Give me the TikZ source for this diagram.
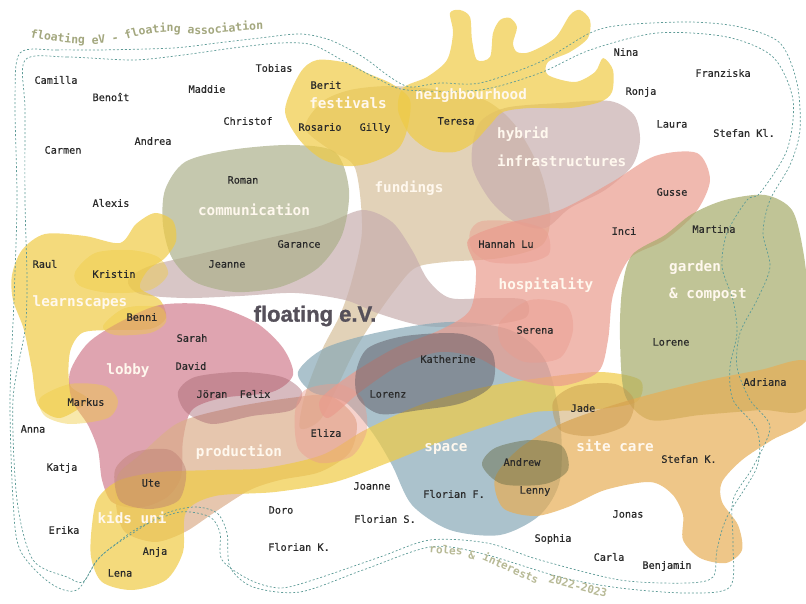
\documentclass[tikz,border=0pt]{standalone}
\usepackage{fontspec}
\setmonofont{DejaVu Sans Mono}
\setsansfont{Liberation Sans}
\newfontface\evfont[FakeBold=1.2]{Liberation Sans Bold}
\newfontface\namefont[FakeBold=0.5]{DejaVu Sans Mono}
\usetikzlibrary{decorations.text}

\definecolor{yellowcol}{HTML}{EFCB45}
\definecolor{commcol}{HTML}{ACB08B}
\definecolor{fundcol}{HTML}{D6BF9A}
\definecolor{hybridcol}{HTML}{C7AEAE}
\definecolor{hospcol}{HTML}{EA9B8D}
\definecolor{gardencol}{HTML}{A5AB69}
\definecolor{carecol}{HTML}{E7AE55}
\definecolor{spacecol}{HTML}{87A8B6}
\definecolor{lobbycol}{HTML}{D17E8E}
\definecolor{prodcol}{HTML}{DBAE8B}
\definecolor{dotcol}{HTML}{5E9B97}
\definecolor{headcol}{HTML}{A3A77E}
\definecolor{footcol}{HTML}{B7B995}
\definecolor{labelcol}{HTML}{FFF8EE}
\definecolor{namecol}{HTML}{2A2A2A}
\definecolor{evcol}{HTML}{55505A}

\tikzset{
  blob/.style={fill=#1, fill opacity=0.7, draw=none},
  member/.style={fill=#1, fill opacity=0.45, draw=none},
  person/.style={font=\namefont\fontsize{10.2}{12}\selectfont, text=namecol, inner sep=1pt},
  role/.style={font=\ttfamily\bfseries\fontsize{14.3}{16}\selectfont, text=labelcol, inner sep=1pt},
  footer/.style={font=\ttfamily\bfseries\fontsize{11}{12}\selectfont, text=footcol, inner sep=0pt},
  border/.style={draw=dotcol, line width=0.7pt, dash pattern=on 2pt off 2pt},
}

\begin{document}
\begin{tikzpicture}[x=1pt,y=-1pt]
\useasboundingbox (0,0) rectangle (806,604);

% the roles
\fill[blob=fundcol] plot[smooth cycle] coordinates {(305,128) (322,102) (350,90) (390,86) (440,90) (485,100) (515,125) (540,170) (550,215) (542,245) (500,258) (445,262) (415,268) (395,290) (375,318) (355,350) (338,385) (320,420) (300,428) (305,395) (322,350) (340,315) (352,280) (362,230) (355,168) (330,150)};
\fill[blob=hybridcol] plot[smooth cycle] coordinates {(478,125) (505,108) (560,103) (610,101) (634,115) (640,140) (632,166) (605,190) (570,208) (545,228) (515,222) (490,200) (472,165)};
\fill[blob=hybridcol] plot[smooth cycle] coordinates {(128,280) (150,266) (200,254) (260,240) (320,226) (362,210) (392,222) (412,250) (428,280) (450,298) (490,298) (525,300) (525,318) (480,326) (425,326) (380,314) (345,300) (295,293) (240,296) (185,298) (140,294)};
\fill[blob=commcol] plot[smooth cycle] coordinates {(165,190) (185,162) (230,150) (290,145) (335,152) (349,190) (342,235) (318,268) (280,287) (235,292) (195,282) (172,258) (163,225)};
\fill[blob=yellowcol] plot[smooth cycle] coordinates {(285,110) (300,73) (317,60) (347,63) (367,73) (392,84) (410,100) (407,130) (397,150) (370,163) (345,166) (320,158) (298,138)};
\fill[blob=yellowcol] plot[smooth cycle] coordinates {(403,88) (427,77) (447,60) (453,33) (450,13) (460,10) (470,17) (472,40) (477,60) (490,57) (493,33) (500,20) (510,18) (517,27) (513,43) (517,52) (530,52) (555,38) (570,15) (580,10) (590,20) (588,38) (570,52) (548,62) (548,75) (575,82) (595,72) (603,58) (613,70) (612,92) (600,102) (570,108) (530,108) (503,112) (490,125) (473,143) (455,152) (430,150) (410,135) (398,110)};
\fill[blob=yellowcol] plot[smooth cycle] coordinates {(12,275) (22,250) (45,234) (85,236) (120,243) (136,224) (155,213) (173,221) (176,241) (165,258) (148,270) (140,288) (160,300) (166,318) (150,329) (110,330) (82,333) (70,352) (70,385) (88,400) (60,418) (38,405) (32,370) (24,330) (13,300)};
\fill[blob=lobbycol] plot[smooth cycle] coordinates {(70,372) (88,343) (120,322) (160,305) (210,305) (255,322) (283,348) (293,375) (272,392) (222,398) (192,410) (183,440) (181,477) (166,498) (138,508) (112,502) (102,480) (98,450) (88,425) (72,400)};
\fill[blob=spacecol] plot[smooth cycle] coordinates {(298,372) (325,348) (380,332) (450,322) (510,330) (545,360) (560,420) (560,480) (540,515) (500,535) (450,530) (412,505) (392,465) (372,432) (345,402) (312,392)};
\fill[blob=prodcol] plot[smooth cycle] coordinates {(118,475) (140,455) (178,423) (230,408) (290,398) (330,396) (356,420) (350,452) (320,472) (280,480) (250,490) (215,512) (185,532) (155,542) (125,532) (116,505)};
\fill[blob=yellowcol] plot[smooth cycle] coordinates {(92,525) (98,498) (120,480) (160,472) (215,470) (265,468) (322,455) (365,430) (420,405) (480,388) (540,378) (600,372) (640,380) (636,402) (590,410) (535,412) (490,425) (440,442) (390,462) (335,482) (275,492) (215,496) (186,512) (183,552) (166,580) (132,590) (102,582) (91,557)};
\fill[blob=hospcol] plot[smooth cycle] coordinates {(320,400) (350,375) (395,348) (440,330) (470,310) (476,270) (468,240) (505,224) (560,210) (612,182) (655,156) (697,153) (710,180) (696,212) (665,240) (630,258) (613,295) (608,340) (598,372) (560,386) (515,378) (478,358) (440,352) (400,365) (360,392) (328,418)};
\fill[blob=gardencol] plot[smooth cycle] coordinates {(622,290) (632,255) (665,235) (692,214) (725,200) (765,195) (792,210) (803,250) (808,300) (808,405) (760,410) (700,415) (650,420) (625,395) (620,340)};
\fill[blob=carecol] plot[smooth cycle] coordinates {(495,478) (520,448) (565,422) (630,400) (700,382) (760,370) (808,362) (808,418) (772,440) (742,460) (722,482) (722,502) (738,525) (742,550) (726,563) (700,558) (683,540) (683,515) (672,494) (650,482) (605,490) (568,507) (535,516) (503,508)};

% the members
\fill[member=yellowcol] plot[smooth cycle] coordinates {(75,272) (95,253) (130,250) (158,257) (168,274) (150,290) (110,293) (80,286)};
\fill[member=yellowcol] plot[smooth cycle] coordinates {(103,326) (125,308) (160,307) (166,322) (150,333) (115,335)};
\fill[member=yellowcol] plot[smooth cycle] coordinates {(40,398) (70,384) (105,386) (118,401) (108,418) (70,424) (45,416)};
\fill[member=lobbycol!80!black] plot[smooth cycle] coordinates {(178,392) (195,377) (240,372) (282,377) (302,392) (292,410) (252,416) (212,424) (186,412)};
\fill[member=hospcol!80!black] plot[smooth cycle] coordinates {(115,470) (135,452) (170,450) (186,470) (179,500) (150,509) (120,501)};
\fill[member=hospcol] plot[smooth cycle] coordinates {(295,412) (305,390) (338,384) (362,398) (367,430) (352,456) (320,463) (298,448)};
\fill[member=evcol] plot[smooth cycle] coordinates {(356,372) (368,348) (405,336) (462,334) (492,352) (492,385) (462,403) (420,410) (380,414) (358,398)};
\fill[member=hospcol] plot[smooth cycle] coordinates {(470,232) (482,221) (520,222) (546,231) (549,254) (525,263) (490,262) (472,250)};
\fill[member=hospcol] plot[smooth cycle] coordinates {(500,322) (530,300) (566,305) (573,330) (560,358) (525,362) (502,346)};
\fill[member=carecol!85!black] plot[smooth cycle] coordinates {(553,402) (575,386) (615,384) (634,400) (626,425) (592,436) (560,430)};
\fill[member=gardencol!60!black] plot[smooth cycle] coordinates {(482,465) (495,448) (530,440) (562,446) (568,470) (545,484) (502,484)};

% floating association
\draw[border] plot[smooth cycle] coordinates {(20,53) (57,50) (100,50) (173,48) (217,43) (260,38) (300,34) (330,40) (363,57) (390,77) (410,87) (440,83) (480,83) (540,62) (590,33) (623,25) (690,22) (740,27) (780,43) (797,83) (800,130) (790,165) (770,200) (763,233) (770,267) (757,300) (740,333) (737,367) (750,400) (770,427) (753,467) (733,500) (733,543) (730,587) (687,593) (620,588) (560,577) (480,553) (430,547) (363,570) (300,592) (253,587) (230,567) (227,533) (217,513) (195,507) (167,513) (133,533) (100,557) (77,590) (50,583) (20,550) (13,500) (10,400) (14,300) (17,200) (15,100)};
\draw[border] plot[smooth cycle] coordinates {(25,60) (67,57) (133,60) (183,55) (233,48) (280,43) (313,45) (347,63) (380,80) (407,90) (480,90) (540,73) (590,50) (657,33) (727,37) (773,57) (793,100) (787,150) (760,193) (747,200) (727,233) (722,267) (733,300) (737,333) (730,367) (733,400) (757,430) (757,467) (727,517) (717,550) (713,577) (687,583) (620,580) (540,560) (487,543) (430,540) (380,557) (313,580) (280,588) (250,580) (222,560) (220,533) (210,517) (180,512) (140,527) (117,543) (97,560) (83,582) (67,577) (33,560) (17,500) (13,400) (25,330) (27,280) (25,200) (25,110)};

\path[decorate, decoration={text along path, text={|\ttfamily\bfseries\fontsize{11.5}{12}\selectfont\color{headcol}|floating eV - floating association}}]
  (30,37) .. controls (70,46) and (100,46) .. (125,40) .. controls (150,32) and (170,30) .. (190,34) .. controls (215,36) and (245,28) .. (275,30);
\node[footer, rotate=-5] (roles) at (446,550) {roles};
\node[footer, rotate=-12] (amp) at (472,555) {\&};
\node[footer, rotate=-24] (interests) at (511,568) {interests};
\node[footer, rotate=-15] (years) at (578,586) {2022-2023};

% people
\def\people{56/80/Camilla, 111/97/Benoît, 207/89/Maddie, 274/68/Tobias, 248/121/Christof, 153/141/Andrea, 63/150/Carmen, 111/203/Alexis, 243/180/Roman, 326/85/Berit, 320/127/Rosario, 375/128/Gilly, 456/121/Teresa, 626/52/Nina, 723/73/Franziska, 641/92/Ronja, 672/124/Laura, 744/133/Stefan Kl., 672/192/Gusse, 624/231/Inci, 714/229/Martina, 506/244/Hannah Lu, 299/244/Garance, 227/264/Jeanne, 45/264/Raul, 114/274/Kristin, 142/317/Benni, 192/338/Sarah, 191/366/David, 212/394/Jöran, 255/394/Felix, 535/330/Serena, 671/342/Lorene, 448/359/Katherine, 388/394/Lorenz, 765/382/Adriana, 583/408/Jade, 86/402/Markus, 33/429/Anna, 326/433/Eliza, 62/468/Katja, 522/462/Andrew, 689/459/Stefan K., 151/483/Ute, 372/486/Joanne, 454/494/Florian F., 535/491/Lenny, 281/510/Doro, 385/519/Florian S., 628/514/Jonas, 64/530/Erika, 155/552/Anja, 299/547/Florian K., 553/539/Sophia, 609/557/Carla, 667/566/Benjamin, 120/573/Lena}
\foreach \x / \y / \name [count=\i] in \people
  \node[person] (p\i) at (\x,\y) {\name};

% roles
\def\roles{348/103/festivals, 471/95/neighbourhood, 409/188/fundings, 254/210/communication, 546/285/hospitality, 80/303/learnscapes, 128/371/lobby, 239/452/production, 446/449/space, 615/446/site care, 132/518/kids uni}
\foreach \x / \y / \role [count=\i] in \roles
  \node[role] (r\i) at (\x,\y) {\role};
\node[role, anchor=west] (hybrid) at (496,134) {hybrid};
\node[role, anchor=west] (infra) at (496,161) {infrastructures};
\node[role, anchor=west] (garden) at (668,268) {garden};
\node[role, anchor=west] (compost) at (668,295) {\& compost};

\node[font=\evfont\fontsize{22}{24}\selectfont, text=evcol, inner sep=0pt] (ev) at (315,316) {floating e.V.};

\end{tikzpicture}
\end{document}
